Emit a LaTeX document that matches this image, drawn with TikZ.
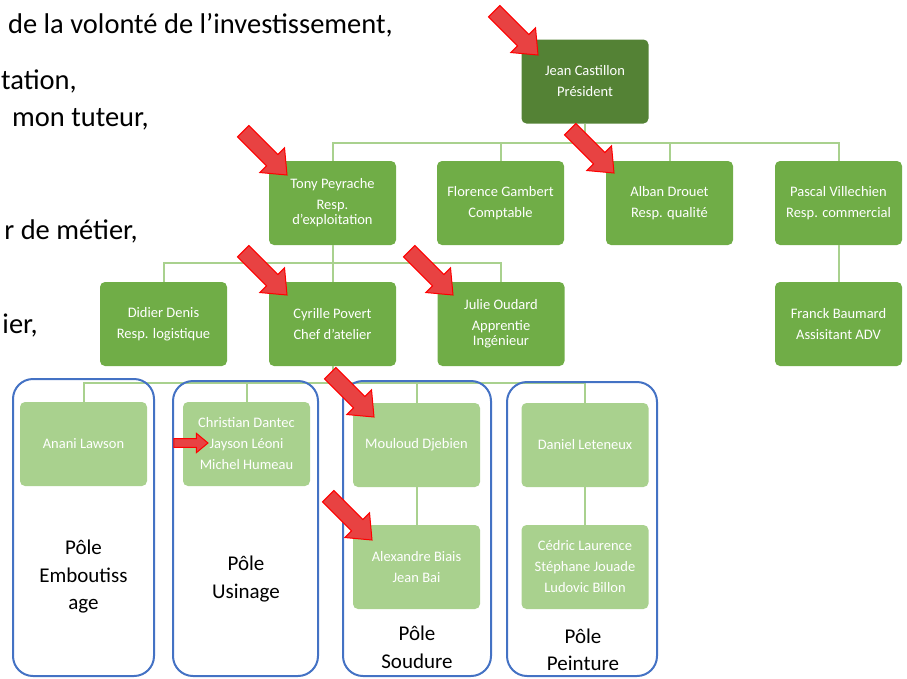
\documentclass[tikz,border=0pt]{standalone}
\usepackage{fontspec}
\setmainfont{Carlito}
\usepackage{tikz}
\usetikzlibrary{arrows}
\definecolor{boss green}{RGB}{84,130,53}
\definecolor{staff green}{RGB}{112,173,71}
\definecolor{team green}{RGB}{169,209,142}
\definecolor{link green}{RGB}{169,209,142}
\definecolor{pole blue}{RGB}{68,114,196}
\definecolor{pointer red}{RGB}{232,66,66}
\newcommand{\pointerpath}{(-62,-8) -- (-21,-8) -- (-21,-17.5) -- (0,0)
  -- (-21,17.5) -- (-21,8) -- (-62,8) -- cycle}
\tikzset{
  {base box/.style} ={rectangle, rounded corners=5pt, text=white,
                minimum width=127pt, minimum height=84pt, inner sep=0,
                align=center, font=\fontsize{14.5}{15}\selectfont},
  {boss box/.style} ={base box, fill=boss green},
  {staff box/.style} ={base box, fill=staff green},
  {team box/.style} ={base box, fill=team green},
  {link/.style} ={draw=link green, line width=2pt},
  {pole frame/.style} ={draw=pole blue, line width=2pt, rounded corners=20pt},
  {pole label/.style} ={align=center, font=\fontsize{21}{27.5}\selectfont},
  {side text/.style} ={anchor=base east, inner sep=0,
                font=\fontsize{28.5}{34}\selectfont},
  {red pointer/.style} ={fill=pointer red, draw=red, line width=1pt},
}

\begin{document}
\begin{tikzpicture}[x=1pt,y=-1pt]
\useasboundingbox (0,0) rectangle (907,678);

% texte coupe a gauche
\node[side text] (t1) at (393,33) {de la volonté de l’investissement,};
\node[side text] (t2) at (77,89) {tation,};
\node[side text] (t3) at (149,126) {mon tuteur,};
\node[side text] (t4) at (138,239) {r de métier,};
\node[side text] (t5) at (38,333) {ier,};

% organigramme
\node[boss box] (jean) at (585,81.5) {Jean Castillon\\[6pt]Président};

\node[staff box] (tony) at (332.5,203) {Tony Peyrache\\[6pt]Resp.\\d'exploitation};
\node[staff box] (florence) at (500.5,203) {Florence Gambert\\[6pt]Comptable};
\node[staff box] (alban) at (669.5,203) {Alban Drouet\\[6pt]Resp. qualité};
\node[staff box] (pascal) at (838.5,203) {Pascal Villechien\\[6pt]Resp. commercial};

\node[staff box] (didier) at (163.5,324) {Didier Denis\\[6pt]Resp. logistique};
\node[staff box] (cyrille) at (332.5,324) {Cyrille Povert\\[6pt]Chef d'atelier};
\node[staff box] (julie) at (501,324) {Julie Oudard\\[6pt]Apprentie\\Ingénieur};
\node[staff box] (franck) at (838.5,324) {Franck Baumard\\[6pt]Assisitant ADV};

\node[team box] (anani) at (83.5,444) {Anani Lawson};
\node[team box] (christian) at (246.5,444) {Christian Dantec\\[6pt]Jayson Léoni\\[6pt]Michel Humeau};
\node[team box] (mouloud) at (416.5,445) {Mouloud Djebien};
\node[team box] (daniel) at (585,445) {Daniel Leteneux};
\node[team box] (alexandre) at (416.5,567) {Alexandre Biais\\[6pt]Jean Bai};
\node[team box] (cedric) at (585,567) {Cédric Laurence\\[6pt]Stéphane Jouade\\[6pt]Ludovic Billon};

% liaisons
\coordinate (busA) at (585,143);
\coordinate (busB) at (332.5,263);
\coordinate (busC) at (332.5,383);
\draw[link] (jean.south) -- (busA);
\draw[link] (tony.north) |- (busA);
\draw[link] (florence.north) |- (busA);
\draw[link] (alban.north) |- (busA);
\draw[link] (pascal.north) |- (busA);
\draw[link] (tony.south) -- (busB);
\draw[link] (didier.north) |- (busB);
\draw[link] (cyrille.north) |- (busB);
\draw[link] (julie.north) |- (busB);
\draw[link] (pascal.south) -- (franck.north);
\draw[link] (cyrille.south) -- (busC);
\draw[link] (anani.north) |- (busC);
\draw[link] (christian.north) |- (busC);
\draw[link] (mouloud.north) |- (busC);
\draw[link] (daniel.north) |- (busC);
\draw[link] (mouloud.south) -- (alexandre.north);
\draw[link] (daniel.south) -- (cedric.north);

% poles
\draw[pole frame] (13,379) rectangle (154,676);
\draw[pole frame] (173,381) rectangle (318,676);
\draw[pole frame] (343,381) rectangle (491,676);
\draw[pole frame] (507,382) rectangle (657,676);
\node[pole label] (emb) at (83.5,577) {Pôle\\Emboutiss\\age};
\node[pole label] (usi) at (246,579) {Pôle\\Usinage};
\node[pole label] (sou) at (417,647.5) {Pôle\\Soudure};
\node[pole label] (pei) at (583,650) {Pôle\\Peinture};

% fleches rouges
\draw[red pointer, shift={(538,55)}, rotate=-45] \pointerpath;
\draw[red pointer, shift={(614,173)}, rotate=-45] \pointerpath;
\draw[red pointer, shift={(287,175)}, rotate=-45] \pointerpath;
\draw[red pointer, shift={(287,295)}, rotate=-45] \pointerpath;
\draw[red pointer, shift={(453,295)}, rotate=-45] \pointerpath;
\draw[red pointer, shift={(374,417)}, rotate=-45] \pointerpath;
\draw[red pointer, shift={(372,540)}, rotate=-45] \pointerpath;
\draw[red pointer, shift={(208,443)}, scale=.55] \pointerpath;
\end{tikzpicture}
\end{document}
